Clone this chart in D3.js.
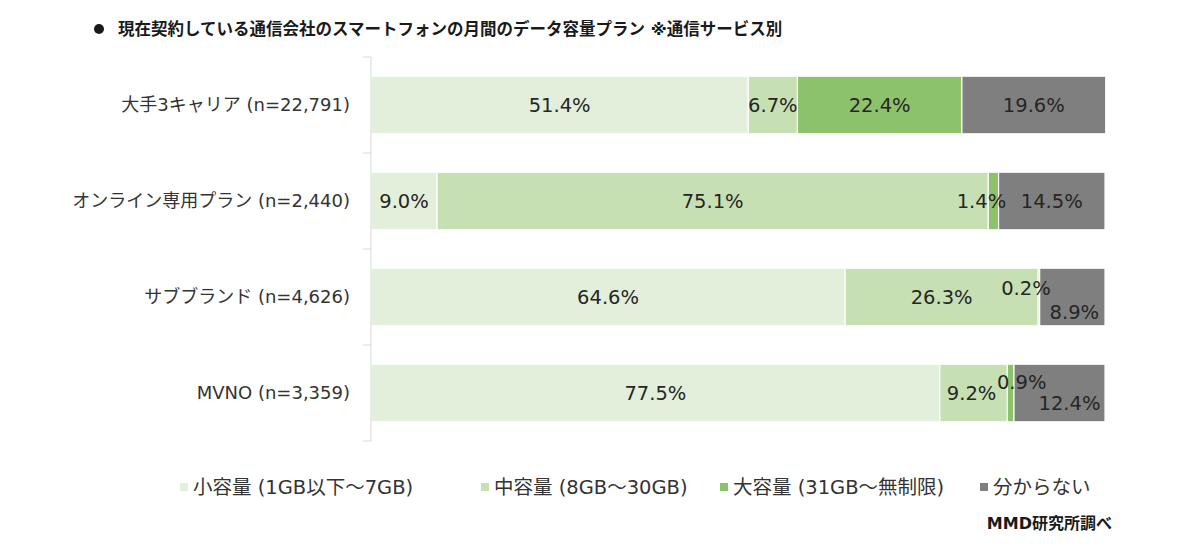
<!DOCTYPE html>
<html>
<head>
<meta charset="utf-8">
<script src="https://cdn.jsdelivr.net/npm/d3@7"></script>
<style>
    body { margin: 0; background: #fff; }
    text { font-family: "DejaVu Sans", "Noto Sans CJK JP", sans-serif; }
</style>
</head>
<body>
<div id="content"></div>
<script>
// ******* DATA *******
const categories = [
    "大手3キャリア (n=22,791)",
    "オンライン専用プラン (n=2,440)",
    "サブブランド (n=4,626)",
    "MVNO (n=3,359)"
];
const seriesNames = ["小容量 (1GB以下～7GB)", "中容量 (8GB～30GB)", "大容量 (31GB～無制限)", "分からない"];
const smallPlan = [51.4, 9.0, 64.6, 77.5];
const mediumPlan = [6.7, 75.1, 26.3, 9.2];
const largePlan = [22.4, 1.4, 0.2, 0.9];
const unknownPlan = [19.6, 14.5, 8.9, 12.4];

const titleText = "現在契約している通信会社のスマートフォンの月間のデータ容量プラン ※通信サービス別";
const sourceText = "MMD研究所調べ";

// ******* STYLE *******
const colors = ["#e2efda", "#c6e0b4", "#8dc26c", "#7f7f7f"];
// hand nudges for crowded labels, "row-series": [dx, dy]
const labelNudge = {
    "1-2": [-12, 0],
    "2-2": [-13, -9],
    "2-3": [2, 15],
    "3-1": [-2, 0],
    "3-2": [11, -11],
    "3-3": [10, 10]
};

const width = 1200, height = 554;
const svg = d3.select("#content").append("svg")
    .attr("width", width)
    .attr("height", height);

// build a stacked table
const table = categories.map((c, i) => ({
    cat: c,
    s0: smallPlan[i], s1: mediumPlan[i], s2: largePlan[i], s3: unknownPlan[i]
}));
const stack = d3.stack().keys(["s0", "s1", "s2", "s3"])(table);

const x = d3.scaleLinear().domain([0, 100]).range([371, 1105]);
const y = d3.scaleBand().domain(categories).range([57, 441])
    .paddingInner(0.4).paddingOuter(0.2);

// title
svg.append("circle")
    .attr("cx", 99).attr("cy", 29).attr("r", 5)
    .attr("fill", "#1a1a1a");
svg.append("text")
    .attr("x", 118).attr("y", 35)
    .attr("font-size", 16.5).attr("font-weight", "bold")
    .attr("fill", "#1a1a1a")
    .text(titleText);

// bars
const layers = svg.append("g").selectAll("g")
    .data(stack).join("g")
    .attr("fill", (d, i) => colors[i]);

layers.selectAll("rect")
    .data(d => d).join("rect")
    .attr("x", d => x(d[0]))
    .attr("y", d => y(d.data.cat))
    .attr("width", d => x(d[1]) - x(d[0]))
    .attr("height", y.bandwidth())
    .attr("stroke", "#fff")
    .attr("stroke-width", 1.2);

// value labels
stack.forEach((layer, si) => {
    layer.forEach((d, ri) => {
        const nudge = labelNudge[ri + "-" + si] || [0, 0];
        svg.append("text")
            .attr("x", (x(d[0]) + x(d[1])) / 2 + nudge[0])
            .attr("y", y(d.data.cat) + y.bandwidth() / 2 + nudge[1])
            .attr("dy", "0.36em")
            .attr("text-anchor", "middle")
            .attr("font-size", 19.5)
            .attr("fill", "#262626")
            .text((d[1] - d[0]).toFixed(1) + "%");
    });
});

// y axis line + ticks
const axisG = svg.append("g").attr("stroke", "#d9d9d9").attr("stroke-width", 1);
axisG.append("line")
    .attr("x1", x(0)).attr("x2", x(0))
    .attr("y1", y.range()[0]).attr("y2", y.range()[1]);
d3.range(categories.length + 1).forEach(i => {
    const ty = y.range()[0] + i * y.step();
    axisG.append("line")
        .attr("x1", x(0) - 8).attr("x2", x(0))
        .attr("y1", ty).attr("y2", ty);
});

// category labels
svg.append("g").selectAll("text")
    .data(categories).join("text")
    .attr("x", 350)
    .attr("y", d => y(d) + y.bandwidth() / 2)
    .attr("dy", "0.36em")
    .attr("text-anchor", "end")
    .attr("font-size", 18)
    .attr("fill", "#333")
    .text(d => d);

// legend
const legendX = [180, 481, 720, 980];
const legend = svg.append("g").selectAll("g")
    .data(seriesNames).join("g")
    .attr("transform", (d, i) => `translate(${legendX[i]},487)`);
legend.append("rect")
    .attr("x", 0).attr("y", -4)
    .attr("width", 8).attr("height", 8)
    .attr("fill", (d, i) => colors[i]);
legend.append("text")
    .attr("x", 13).attr("dy", "0.36em")
    .attr("font-size", 19.5)
    .attr("fill", "#333")
    .text(d => d);

// source
svg.append("text")
    .attr("x", 1112).attr("y", 529)
    .attr("text-anchor", "end")
    .attr("font-size", 16).attr("font-weight", "bold")
    .attr("fill", "#1a1a1a")
    .text(sourceText);
</script>
</body>
</html>
